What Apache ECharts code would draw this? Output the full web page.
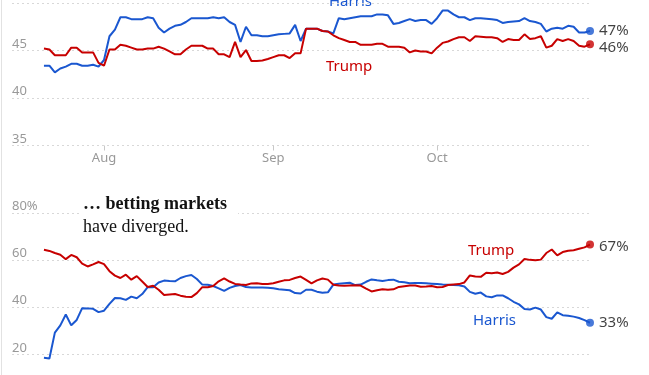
<!DOCTYPE html>
<html>
<head>
<meta charset="utf-8">
<script src="https://cdn.jsdelivr.net/npm/echarts@6/dist/echarts.min.js"></script>
<style>
  html, body { margin: 0; padding: 0; background: #fff; }
  #chart { width: 649px; height: 375px; }
</style>
</head>
<body>
<div id="chart"></div>
<script>
// day 0 = 21 Jul, last day = 29 Oct
const monthLabels = ["Aug", "Sep", "Oct"];
const monthDays = [11, 42, 72];

const pollTicks = [35, 40, 45, 50];
const betTicks = [0, 20, 40, 60, 80];

// polling average (%)
const pollHarris = [
  43.4, 43.4, 42.7, 43.1, 43.3, 43.6, 43.6, 43.4, 43.4, 43.5,
  43.3, 44.0, 46.5, 47.2, 48.5, 48.5, 48.3, 48.3, 48.3, 48.5,
  48.4, 47.4, 46.9, 47.3, 47.6, 47.7, 48.0, 48.4, 48.4, 48.4,
  48.4, 48.5, 48.4, 48.5, 48.0, 47.7, 45.9, 47.5, 46.6, 46.6,
  46.5, 46.5, 46.6, 46.7, 46.75, 46.8, 47.7, 46.0, 47.3, 47.3,
  47.3, 47.05, 47.0, 46.8, 48.4, 48.3, 48.4, 48.5, 48.6, 48.6,
  48.6, 48.8, 48.8, 48.7, 47.8, 47.9, 48.1, 48.3, 48.1, 48.2,
  48.2, 47.8, 48.4, 49.2, 49.2, 48.8, 48.5, 48.5, 48.2, 48.4,
  48.4, 48.35, 48.3, 48.2, 47.9, 48.0, 48.05, 48.1, 48.4, 48.1,
  48.0, 47.8, 47.0, 47.3, 47.4, 47.3, 47.6, 47.5, 46.9, 46.9, 47.05
];
const pollTrump = [
  45.2, 45.1, 44.5, 44.5, 44.5, 45.3, 45.3, 44.8, 44.8, 44.8,
  43.7, 43.4, 45.1, 45.1, 45.6, 45.5, 45.3, 45.1, 45.1, 45.2,
  45.2, 45.4, 45.2, 44.9, 44.6, 44.6, 45.1, 45.5, 45.5, 45.5,
  45.2, 45.2, 44.6, 44.6, 44.3, 45.9, 44.3, 45.05, 43.9, 43.9,
  43.95, 44.1, 44.3, 44.5, 44.5, 44.2, 44.7, 44.7, 47.3, 47.3,
  47.3, 47.05, 47.0, 46.6, 46.3, 46.1, 45.9, 45.9, 45.6, 45.6,
  45.6, 45.7, 45.7, 45.4, 45.4, 45.4, 45.3, 44.8, 45.0, 44.9,
  44.9, 44.7, 45.3, 45.8, 45.95, 46.2, 46.4, 46.4, 46.0, 46.5,
  46.45, 46.4, 46.4, 46.3, 45.9, 46.2, 46.1, 46.1, 46.7, 46.2,
  46.3, 46.5, 45.3, 45.5, 46.2, 46.0, 46.2, 46.0, 45.5, 45.4, 45.65
];

// betting market implied chance (%)
const betHarris = [
  18.5, 18.2, 29.2, 32.3, 36.9, 32.3, 34.6, 39.6, 39.5, 39.3,
  37.9, 38.5, 41.4, 43.9, 43.8, 43.1, 44.5, 43.8, 45.6, 48.5,
  48.5, 50.5, 51.3, 51.1, 51.0, 52.4, 53.2, 53.7, 52.0, 49.6,
  49.5, 49.0, 48.0, 46.9, 48.2, 49.0, 49.4, 48.6, 48.4, 48.4,
  48.4, 48.3, 48.0, 47.6, 47.4, 47.2, 46.0, 45.8, 47.4, 47.4,
  46.6, 46.1, 46.3, 49.6, 50.0, 50.2, 50.4, 49.4, 49.6, 50.8,
  51.8, 51.4, 51.1, 51.5, 51.7, 50.8, 50.6, 50.2, 50.3, 50.3,
  50.2, 50.0, 49.8, 49.6, 49.5, 49.4, 49.3, 48.8, 46.5, 45.7,
  46.2, 44.6, 44.2, 45.0, 45.0, 43.8, 42.3, 41.2, 39.2, 39.0,
  39.8, 39.0, 35.8, 35.1, 37.8, 36.6, 36.4, 36.0, 35.4, 34.5, 33.4
];
const betTrump = [
  64.4, 63.9, 63.0, 62.3, 60.4, 62.2, 61.2, 58.5, 57.3, 58.2,
  59.2, 58.3, 55.3, 53.4, 52.4, 53.8, 51.7, 53.2, 50.9, 48.6,
  49.1, 47.4, 45.2, 45.4, 45.6, 44.9, 44.4, 44.3, 46.0, 48.5,
  48.5, 49.0, 51.0, 52.2, 50.9, 49.9, 49.6, 49.4, 50.1, 50.2,
  49.9, 49.9, 50.2, 50.8, 51.4, 51.6, 52.4, 53.0, 51.6, 50.1,
  51.4, 52.2, 51.7, 49.5, 49.2, 49.1, 49.2, 49.3, 49.2, 47.9,
  46.7, 47.2, 47.6, 47.4, 47.6, 48.6, 48.9, 49.2, 49.2, 48.7,
  48.8, 49.0, 48.5, 48.6, 49.4, 49.6, 49.8, 50.5, 53.5, 53.0,
  52.9, 54.6, 54.4, 54.7, 54.1, 55.0, 56.8, 58.2, 60.5, 60.1,
  59.9, 60.2, 63.0, 64.5, 62.0, 63.4, 64.0, 64.2, 64.8, 65.4, 66.6
];

const BLUE = "#1a57d0";
const RED = "#c70000";
const SANS = "Noto Sans";

const chart = echarts.init(document.getElementById("chart"));

const toPoints = arr => arr.map((v, i) => [i, v]);
const lastPoint = arr => [[arr.length - 1, arr[arr.length - 1]]];

function lineSeries(name, values, color, idx) {
  return {
    name,
    type: "line",
    xAxisIndex: idx,
    yAxisIndex: idx,
    data: toPoints(values),
    symbol: "none",
    lineStyle: { color, width: 2 },
    animation: false
  };
}

function endDot(values, color, idx, offsetY) {
  return {
    type: "scatter",
    xAxisIndex: idx,
    yAxisIndex: idx,
    data: lastPoint(values),
    symbolSize: 8,
    itemStyle: { color },
    label: {
      show: true,
      position: "right",
      distance: 5,
      offset: [0, offsetY],
      formatter: p => Math.round(p.value[1]) + "%",
      color: "#121212",
      fontFamily: SANS,
      fontSize: 15
    },
    z: 5,
    animation: false
  };
}

const gridLine = {
  show: true,
  lineStyle: { color: "#d8d8d8", width: 1, type: [2, 3] }
};

const xBase = {
  type: "value",
  min: -5.85,
  max: 100,
  splitLine: { show: false },
  axisLine: { show: false }
};

const option = {
  backgroundColor: "#fff",
  grid: [
    { left: 12, right: 59, top: 3, height: 142.5, outerBoundsMode: "none", containLabel: false },
    { left: 12, right: 59, top: 213, height: 188.4, outerBoundsMode: "none", containLabel: false }
  ],
  xAxis: [
    {
      ...xBase,
      gridIndex: 0,
      axisTick: {
        show: true,
        length: 5,
        customValues: monthDays,
        lineStyle: { color: "#c8c8c8" }
      },
      axisLabel: {
        show: true,
        customValues: monthDays,
        formatter: v => monthLabels[monthDays.indexOf(v)] || "",
        color: "#999",
        fontFamily: SANS,
        fontSize: 13,
        margin: 6
      }
    },
    {
      ...xBase,
      gridIndex: 1,
      axisTick: { show: false },
      axisLabel: { show: false }
    }
  ],
  yAxis: [
    {
      type: "value",
      gridIndex: 0,
      min: pollTicks[0],
      max: pollTicks[pollTicks.length - 1],
      interval: 5,
      axisLine: { show: false },
      axisTick: { show: false },
      splitLine: gridLine,
      axisLabel: {
        inside: true,
        margin: 0,
        verticalAlign: "bottom",
        color: "#999",
        fontFamily: SANS,
        fontSize: 13
      }
    },
    {
      type: "value",
      gridIndex: 1,
      min: betTicks[0],
      max: betTicks[betTicks.length - 1],
      interval: 20,
      axisLine: { show: false },
      axisTick: { show: false },
      splitLine: gridLine,
      axisLabel: {
        inside: true,
        margin: 0,
        verticalAlign: "bottom",
        color: "#999",
        fontFamily: SANS,
        fontSize: 13,
        formatter: v => (v === 80 ? v + "%" : String(v))
      }
    }
  ],
  series: [
    lineSeries("Harris", pollHarris, BLUE, 0),
    lineSeries("Trump", pollTrump, RED, 0),
    lineSeries("Harris", betHarris, BLUE, 1),
    lineSeries("Trump", betTrump, RED, 1),
    endDot(pollHarris, BLUE, 0, 0),
    endDot(pollTrump, RED, 0, 3),
    endDot(betTrump, RED, 1, 2),
    endDot(betHarris, BLUE, 1, 0)
  ],
  graphic: [
    {
      type: "line",
      shape: { x1: 1.5, y1: 0, x2: 1.5, y2: 375 },
      style: { stroke: "#e2e2e2", lineWidth: 1 },
      silent: true
    },
    {
      type: "text",
      x: 329, y: 1.5,
      style: { text: "Harris", fill: BLUE, font: "15px 'Noto Sans'", verticalAlign: "middle" }
    },
    {
      type: "text",
      x: 326, y: 66.5,
      style: { text: "Trump", fill: RED, font: "15px 'Noto Sans'", verticalAlign: "middle" }
    },
    {
      type: "text",
      x: 468, y: 250.5,
      style: { text: "Trump", fill: RED, font: "15px 'Noto Sans'", verticalAlign: "middle" }
    },
    {
      type: "text",
      x: 473, y: 321,
      style: { text: "Harris", fill: BLUE, font: "15px 'Noto Sans'", verticalAlign: "middle" }
    },
    {
      type: "rect",
      shape: { x: 80, y: 194, width: 158, height: 46 },
      style: { fill: "#fff" },
      z: 10
    },
    {
      type: "text",
      x: 83, y: 204,
      z: 11,
      style: { text: "\u2026 betting markets", fill: "#121212", font: "bold 18px 'Liberation Serif'", verticalAlign: "middle" }
    },
    {
      type: "text",
      x: 83, y: 227,
      z: 11,
      style: { text: "have diverged.", fill: "#121212", font: "18px 'Liberation Serif'", verticalAlign: "middle" }
    }
  ]
};

chart.setOption(option);
</script>
</body>
</html>
